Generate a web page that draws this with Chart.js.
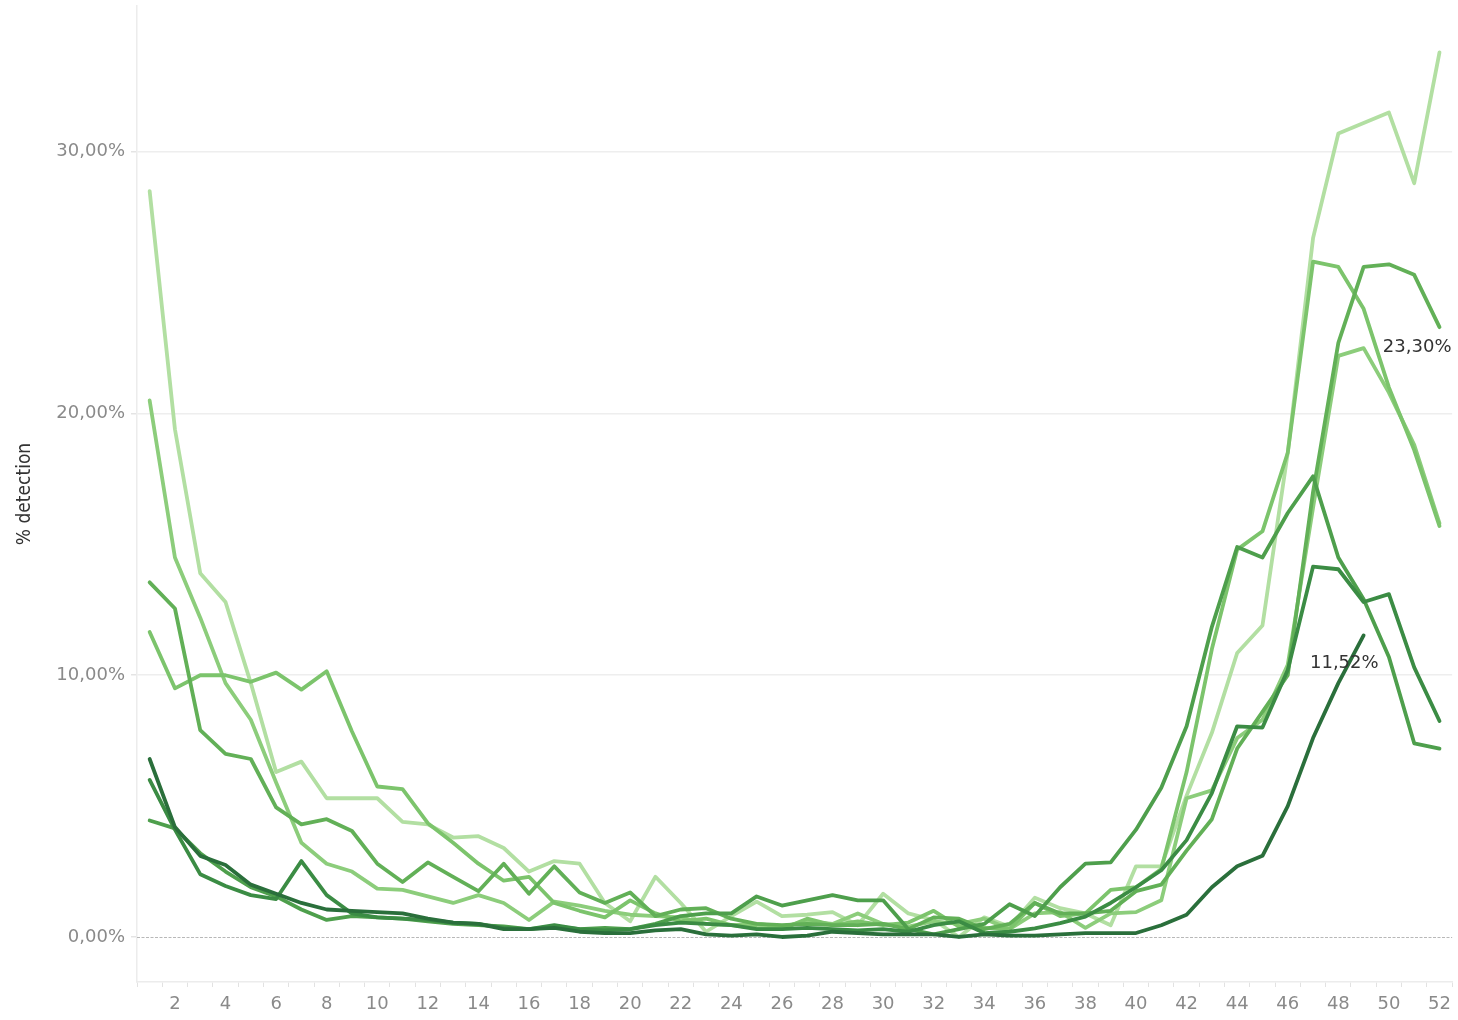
<!DOCTYPE html>
<html>
<head>
<meta charset="utf-8">
<title>% detection</title>
<script src="https://cdn.jsdelivr.net/npm/chart.js@4.4.0/dist/chart.umd.min.js"></script>
<style>
  html, body { margin: 0; padding: 0; background: #fff; }
</style>
</head>
<body>
<canvas id="myChart" width="1458" height="1020"></canvas>
<script>
// weeks of the year
var weeks = [1,2,3,4,5,6,7,8,9,10,11,12,13,14,15,16,17,18,19,20,21,22,23,24,25,26,
             27,28,29,30,31,32,33,34,35,36,37,38,39,40,41,42,43,44,45,46,47,48,49,50,51,52];

var yTicks = [0, 10, 20, 30];

// % detection per week, one list per season (lightest to darkest)
var season1 = [28.5,19.4,13.9,12.8,9.7,6.3,6.7,5.3,5.3,5.3,4.4,4.3,3.8,3.85,3.4,2.5,2.9,2.8,1.3,0.6,
               2.3,1.3,0.2,0.8,1.35,0.8,0.85,0.95,0.45,1.65,0.9,0.65,0.0,0.75,0.4,1.5,1.1,0.9,0.45,2.7,
               2.7,5.4,7.8,10.85,11.9,18.5,26.7,30.7,31.1,31.5,28.8,33.8];
var season2 = [20.5,14.5,12.2,9.7,8.3,5.9,3.6,2.8,2.5,1.85,1.8,1.55,1.3,1.6,1.3,0.65,1.35,1.2,1.0,0.85,
               0.8,0.75,0.5,0.45,0.5,0.4,0.6,0.5,0.9,0.5,0.4,0.6,0.5,0.7,0.3,0.9,0.95,0.35,0.9,0.95,
               1.4,5.3,5.6,7.6,8.3,10.4,16.4,22.2,22.5,20.8,18.8,15.8];
var season3 = [11.65,9.5,10.0,10.0,9.75,10.1,9.45,10.15,7.85,5.75,5.65,4.35,3.6,2.8,2.15,2.3,1.3,1.0,0.75,1.4,
               0.9,0.6,0.7,0.45,0.35,0.3,0.7,0.45,0.6,0.45,0.55,1.0,0.4,0.35,0.3,1.3,0.8,0.9,1.8,1.9,
               2.6,6.3,11.0,14.8,15.5,18.5,25.8,25.6,24.0,21.0,18.6,15.7];
var season4 = [13.55,12.55,7.9,7.0,6.8,4.95,4.3,4.5,4.05,2.8,2.1,2.85,2.3,1.75,2.8,1.65,2.7,1.7,1.3,1.7,
               0.8,1.05,1.1,0.7,0.5,0.45,0.5,0.45,0.45,0.5,0.3,0.75,0.7,0.3,0.5,1.3,0.9,0.9,1.0,1.75,
               2.0,3.3,4.5,7.2,8.6,10.0,17.0,22.7,25.6,25.7,25.3,23.3];
var season5 = [4.45,4.15,3.2,2.5,1.9,1.55,1.05,0.65,0.8,0.75,0.7,0.6,0.5,0.45,0.4,0.3,0.4,0.3,0.35,0.3,
               0.5,0.8,0.9,0.9,1.55,1.2,1.4,1.6,1.4,1.4,0.3,0.1,0.3,0.5,1.25,0.8,1.9,2.8,2.85,4.1,
               5.7,8.05,11.85,14.9,14.5,16.2,17.6,14.5,12.9,10.7,7.4,7.2];
var season6 = [6.0,4.1,2.4,1.95,1.6,1.45,2.9,1.6,0.9,0.75,0.7,0.65,0.55,0.5,0.35,0.3,0.45,0.3,0.25,0.3,
               0.45,0.55,0.5,0.45,0.3,0.3,0.35,0.3,0.25,0.3,0.2,0.45,0.6,0.15,0.2,0.33,0.53,0.78,1.3,1.9,
               2.55,3.7,5.5,8.05,8.0,10.2,14.15,14.05,12.8,13.1,10.3,8.25];
var season7 = [6.8,4.2,3.1,2.75,2.0,1.65,1.3,1.05,1.0,0.95,0.9,0.7,0.55,0.5,0.3,0.3,0.35,0.2,0.15,0.15,
               0.25,0.3,0.1,0.05,0.1,0.0,0.05,0.2,0.15,0.1,0.1,0.1,0.0,0.1,0.05,0.05,0.1,0.15,0.15,0.15,
               0.45,0.85,1.9,2.7,3.1,5.0,7.6,9.7,11.52,null,null,null];

var seasonNames = ['S1','S2','S3','S4','S5','S6','S7'];
var seasonColors = ['#b2dfa2','#8ccd7b','#7cc46c','#62b057','#4e9f4c','#3b8c44','#2a6f3b'];
var allSeasons = [season1, season2, season3, season4, season5, season6, season7];

// which marks get a value label
var labelled = [ {season: 'S4', week: 52, dx: 12, dy: 20},
                 {season: 'S7', week: 49, dx: 15, dy: 28} ];

function pct(v) {
  return v.toFixed(2).replace('.', ',') + '%';
}

// darkest first so that it's drawn on top
var datasets = [];
for (var i = allSeasons.length - 1; i >= 0; i--) {
  datasets.push({
    label: seasonNames[i],
    data: allSeasons[i],
    borderColor: seasonColors[i],
    backgroundColor: seasonColors[i],
    borderWidth: 3.8,
    pointRadius: 0,
    tension: 0,
    borderJoinStyle: 'round',
    borderCapStyle: 'round',
    spanGaps: false
  });
}

var extras = {
  id: 'extras',
  beforeDatasetsDraw: function(chart) {
    var ctx = chart.ctx, a = chart.chartArea;
    var y0 = Math.round(chart.scales.y.getPixelForValue(0)) + 0.5;
    ctx.save();
    ctx.strokeStyle = '#b8b8b8';
    ctx.lineWidth = 1;
    ctx.setLineDash([3, 1.5]);
    ctx.beginPath();
    ctx.moveTo(a.left, y0);
    ctx.lineTo(a.right, y0);
    ctx.stroke();
    ctx.restore();
  },
  afterDatasetsDraw: function(chart) {
    var ctx = chart.ctx;
    ctx.save();
    ctx.font = '18px "DejaVu Sans"';
    ctx.fillStyle = '#333333';
    ctx.textAlign = 'right';
    ctx.textBaseline = 'middle';
    labelled.forEach(function(l) {
      var di = chart.data.datasets.findIndex(function(d) { return d.label === l.season; });
      var idx = weeks.indexOf(l.week);
      var pt = chart.getDatasetMeta(di).data[idx];
      var v = chart.data.datasets[di].data[idx];
      ctx.fillText(pct(v), pt.x + l.dx, pt.y + l.dy);
    });
    ctx.restore();
  }
};

var ctx = document.getElementById('myChart').getContext('2d');
var myChart = new Chart(ctx, {
  type: 'line',
  data: { labels: weeks, datasets: datasets },
  options: {
    responsive: false,
    animation: false,
    devicePixelRatio: 1,
    layout: { padding: { top: 6, right: 5, bottom: 0, left: 0 } },
    plugins: { legend: { display: false }, tooltip: { enabled: false } },
    scales: {
      x: {
        type: 'category',
        offset: true,
        afterFit: function(s) { s.height = 38; },
        grid: {
          display: true, drawOnChartArea: false, drawTicks: true,
          offset: true, tickLength: 5, color: '#e2e2e2', lineWidth: 1
        },
        border: { display: true, color: '#ececec', width: 1.5 },
        ticks: {
          autoSkip: false, maxRotation: 0, minRotation: 0, padding: 7,
          color: '#8a8a8a', font: { family: 'DejaVu Sans', size: 18 },
          callback: function(val, i) { return weeks[i] % 2 === 0 ? String(weeks[i]) : ''; }
        }
      },
      y: {
        min: -1.72,
        max: 35.57,
        afterFit: function(s) { s.width = 137; s.paddingTop = 0; s.paddingBottom = 0; },
        afterBuildTicks: function(s) { s.ticks = yTicks.map(function(v) { return { value: v }; }); },
        grid: {
          color: function(c) { return c.tick && c.tick.value === 0 ? 'rgba(0,0,0,0)' : '#eeeeee'; },
          lineWidth: 1.5, drawTicks: true, tickLength: 6, tickColor: '#e4e4e4'
        },
        border: { display: true, color: '#ececec', width: 1.5 },
        ticks: {
          padding: 6, color: '#8a8a8a', font: { family: 'DejaVu Sans', size: 18 },
          callback: function(v) { return pct(v); }
        },
        title: {
          display: true, text: '% detection', color: '#333333',
          font: { family: 'DejaVu Sans Condensed', size: 19 },
          padding: { top: 14, bottom: 0 }
        }
      }
    }
  },
  plugins: [extras]
});
</script>
</body>
</html>
